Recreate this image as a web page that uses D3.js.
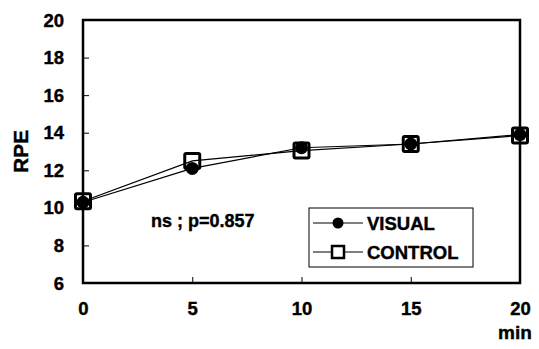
<!DOCTYPE html>
<html>
<head>
<meta charset="utf-8">
<script src="https://cdn.jsdelivr.net/npm/d3@7/dist/d3.min.js"></script>
<style>
  html, body { margin: 0; padding: 0; background: #fff; }
  svg { display: block; }
  text { font-family: "Liberation Sans", Arial, sans-serif; font-weight: bold; fill: #000; stroke: #000; stroke-width: 0.4px; }
</style>
</head>
<body>
<svg id="chart" width="539" height="349"></svg>
<script>
// RPE over time for two conditions
const minutes = [0, 5, 10, 15, 20];
const visual = [10.3, 12.1, 13.2, 13.4, 13.9];
const control = [10.35, 12.5, 13.05, 13.4, 13.85];
const yTicks = [6, 8, 10, 12, 14, 16, 18, 20];
const xTicks = [0, 5, 10, 15, 20];

const svg = d3.select("#chart");
const margin = { left: 83, right: 19, top: 20, bottom: 66 };
const W = 539, H = 349;

const x = d3.scaleLinear().domain([0, 20]).range([margin.left, W - margin.right]);
const y = d3.scaleLinear().domain([6, 20]).range([H - margin.bottom, margin.top]);

// plot frame
svg.append("rect")
  .attr("x", x(0)).attr("y", y(20))
  .attr("width", x(20) - x(0)).attr("height", y(6) - y(20))
  .attr("fill", "none").attr("stroke", "#000").attr("stroke-width", 2.5);

// y axis: inward ticks
const yAxis = svg.append("g").attr("transform", `translate(${x(0)},0)`)
  .call(d3.axisLeft(y).tickValues(yTicks).tickSize(-6).tickPadding(19));
yAxis.select(".domain").remove();
yAxis.selectAll("line").attr("stroke-width", 1);
yAxis.selectAll("text").style("font-size", "18.5px").attr("dy", "0.33em");

// x axis: inward ticks
const xAxis = svg.append("g").attr("transform", `translate(0,${y(6)})`)
  .call(d3.axisBottom(x).tickValues(xTicks).tickSize(-6).tickPadding(19));
xAxis.select(".domain").remove();
xAxis.selectAll("line").attr("stroke-width", 1);
xAxis.selectAll("text").style("font-size", "18.5px");

svg.append("text").attr("x", 515).attr("y", 339).attr("text-anchor", "middle")
  .style("font-size", "19px").text("min");

svg.append("text")
  .attr("transform", `translate(28,${(y(20) + y(6)) / 2}) rotate(-90)`)
  .attr("text-anchor", "middle").style("font-size", "21px").text("RPE");

const line = d3.line().x((d, i) => x(minutes[i])).y(d => y(d));

svg.append("path").datum(visual).attr("d", line)
  .attr("fill", "none").attr("stroke", "#000").attr("stroke-width", 1.2);
svg.append("path").datum(control).attr("d", line)
  .attr("fill", "none").attr("stroke", "#000").attr("stroke-width", 1.2);

// VISUAL: filled circles
svg.selectAll("circle.vis").data(visual).enter().append("circle")
  .attr("cx", (d, i) => x(minutes[i])).attr("cy", d => y(d)).attr("r", 6.5)
  .attr("fill", "#000");

// CONTROL: open squares
const sq = 15;
svg.selectAll("rect.ctl").data(control).enter().append("rect")
  .attr("x", (d, i) => x(minutes[i]) - sq / 2).attr("y", d => y(d) - sq / 2)
  .attr("width", sq).attr("height", sq).attr("rx", 1.5)
  .attr("fill", "none").attr("stroke", "#000").attr("stroke-width", 3);

// annotation
svg.append("text").attr("x", 151).attr("y", 227).style("font-size", "18px").text("ns ; p=0.857");

// legend
const lg = svg.append("g");
lg.append("rect").attr("x", 309).attr("y", 208).attr("width", 164).attr("height", 59)
  .attr("fill", "#fff").attr("stroke", "#000").attr("stroke-width", 1);
const rows = [{ name: "VISUAL", cy: 223, mark: "circle" }, { name: "CONTROL", cy: 252, mark: "square" }];
rows.forEach(r => {
  lg.append("line").attr("x1", 313).attr("x2", 363).attr("y1", r.cy).attr("y2", r.cy)
    .attr("stroke", "#000").attr("stroke-width", 1.2);
  if (r.mark === "circle") {
    lg.append("circle").attr("cx", 338).attr("cy", r.cy).attr("r", 5.5).attr("fill", "#000");
  } else {
    lg.append("rect").attr("x", 332).attr("y", r.cy - 6).attr("width", 12).attr("height", 12)
      .attr("fill", "#fff").attr("stroke", "#000").attr("stroke-width", 2.5);
  }
  lg.append("text").attr("x", 367).attr("y", r.cy).attr("dy", "0.36em")
    .style("font-size", "18.5px").text(r.name);
});
</script>
</body>
</html>
